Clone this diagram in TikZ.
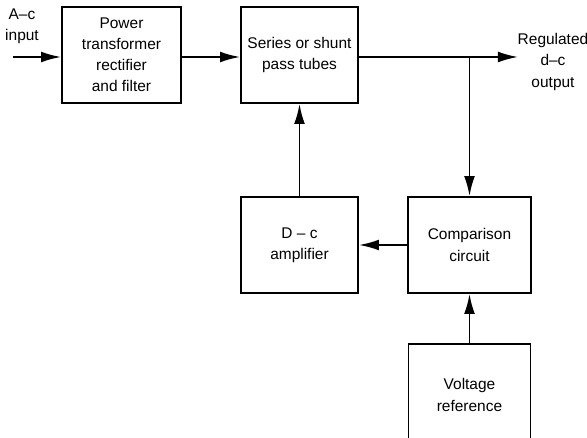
\documentclass[tikz,border=0pt]{standalone}
\usepackage{fontspec}
\setmainfont{Liberation Sans}
\usepackage{tikz}
\usetikzlibrary{positioning, arrows.meta}

\tikzset{
  blockbox/.style={draw, line width=1.3pt, minimum height=2.4cm, align=center, inner sep=2pt},
  arr/.style={line width=1.3pt, -{Latex[length=0.5cm, width=0.27cm]}},
  lbl/.style={align=center, inner sep=0pt}
}

\begin{document}
\begin{tikzpicture}[x=0.025cm, y=-0.025cm, font=\fontsize{11}{15}\selectfont]
      \useasboundingbox (0,0) rectangle (587,438);
      \clip (0,0) rectangle (587,438);

      % Blocks
      \node[blockbox, minimum width=2.975cm] (power) at (121.5,55) {Power\\transformer\\rectifier\\and filter};
      \node[blockbox, minimum width=2.925cm] (series) at (299.5,55) {Series or shunt\\pass tubes};
      \node[blockbox, minimum width=2.925cm] (dcamp) at (299.5,245) {D -- c\\amplifier};
      \node[blockbox, minimum width=3.075cm] (comp) at (469.5,245) {Comparison\\circuit};
      \node[blockbox, minimum width=3.05cm, minimum height=2.55cm] (vref) at (469.5,395) {Voltage\\reference};

      % Input and output
      \coordinate (in) at (13,57);
      \coordinate (out) at (518,57);
      \coordinate (tap) at (469.5,57);
      \node[lbl] (inlbl) at (22,26) {A--c\\input};
      \node[lbl] (outlbl) at (553,62) {Regulated\\d--c\\output};

      % Connections
      \draw[arr] (in) -- (power.west |- in);
      \draw[arr] (power.east |- in) -- (series.west |- in);
      \draw[arr] (series.east |- out) -- (out);
      \draw[arr] (tap) -- (comp.north);
      \foreach \a/\b in {dcamp.north/series.south, comp.west/dcamp.east, vref.north/comp.south} {
        \draw[arr] (\a) -- (\b);
      }
    \end{tikzpicture}
\end{document}
